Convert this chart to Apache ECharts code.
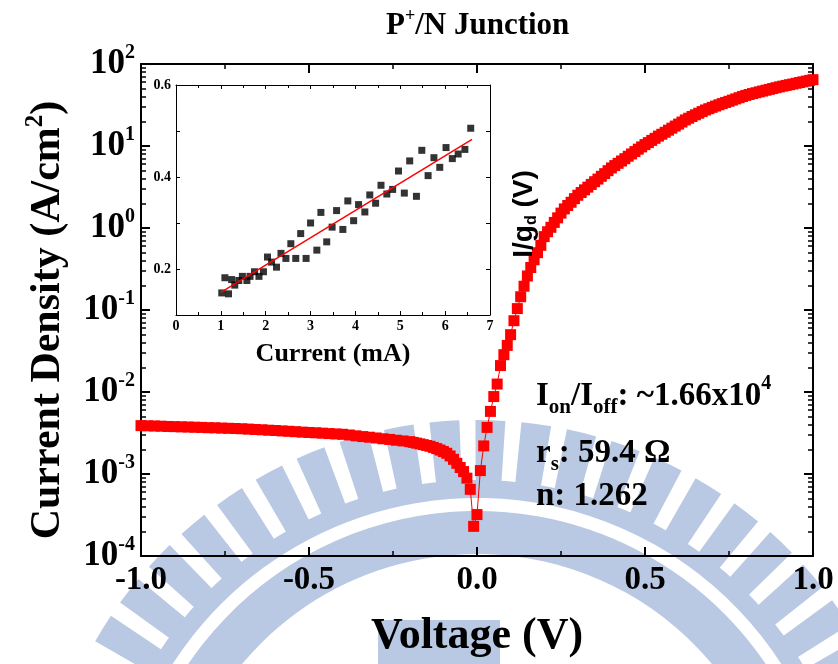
<!DOCTYPE html>
<html>
<head>
<meta charset="utf-8">
<script src="https://cdn.jsdelivr.net/npm/echarts@6/dist/echarts.min.js"></script>
<style>
  html, body { margin: 0; padding: 0; background: #fff; }
  #main { width: 838px; height: 664px; }
</style>
</head>
<body>
<div id="main"></div>
<script>
// J-V curve of the P+/N junction (V, A/cm2)
var voltage = [
  -1.00, -0.98, -0.96, -0.94, -0.92, -0.90, -0.88, -0.86, -0.84, -0.82,
  -0.80, -0.78, -0.76, -0.74, -0.72, -0.70, -0.68, -0.66, -0.64, -0.62,
  -0.60, -0.58, -0.56, -0.54, -0.52, -0.50, -0.48, -0.46, -0.44, -0.42,
  -0.40, -0.38, -0.36, -0.34, -0.32, -0.30, -0.28, -0.26, -0.24, -0.22,
  -0.20,
  -0.19, -0.18, -0.17, -0.16, -0.15, -0.14, -0.13, -0.12, -0.11, -0.10,
  -0.09, -0.08, -0.07, -0.06, -0.05, -0.04, -0.03, -0.02, -0.01, 0.00,
  0.01, 0.02, 0.03, 0.04, 0.05, 0.06, 0.07, 0.08, 0.09, 0.10,
  0.11, 0.12, 0.13, 0.14, 0.15, 0.16, 0.17, 0.18, 0.19, 0.20,
  0.21, 0.22, 0.23, 0.24, 0.25, 0.26, 0.27, 0.28, 0.29, 0.30,
  0.31, 0.32, 0.33, 0.34, 0.35, 0.36, 0.37, 0.38, 0.39, 0.40,
  0.41, 0.42, 0.43, 0.44, 0.45, 0.46, 0.47, 0.48, 0.49, 0.50,
  0.51, 0.52, 0.53, 0.54, 0.55, 0.56, 0.57, 0.58, 0.59, 0.60,
  0.61, 0.62, 0.63, 0.64, 0.65, 0.66, 0.67, 0.68, 0.69, 0.70,
  0.71, 0.72, 0.73, 0.74, 0.75, 0.76, 0.77, 0.78, 0.79, 0.80,
  0.81, 0.82, 0.83, 0.84, 0.85, 0.86, 0.87, 0.88, 0.89, 0.90,
  0.91, 0.92, 0.93, 0.94, 0.95, 0.96, 0.97, 0.98, 0.99, 1.00
];
var currentDensity = [
  3.89e-3, 3.87e-3, 3.85e-3, 3.83e-3, 3.80e-3, 3.78e-3, 3.76e-3, 3.74e-3, 3.72e-3, 3.70e-3,
  3.67e-3, 3.66e-3, 3.63e-3, 3.61e-3, 3.59e-3, 3.56e-3, 3.53e-3, 3.49e-3, 3.46e-3, 3.42e-3,
  3.39e-3, 3.35e-3, 3.32e-3, 3.28e-3, 3.24e-3, 3.21e-3, 3.18e-3, 3.15e-3, 3.11e-3, 3.08e-3,
  3.05e-3, 2.99e-3, 2.92e-3, 2.86e-3, 2.81e-3, 2.75e-3, 2.69e-3, 2.64e-3, 2.58e-3, 2.53e-3,
  2.48e-3,
  2.43e-3, 2.38e-3, 2.33e-3, 2.28e-3, 2.23e-3, 2.18e-3, 2.11e-3, 2.04e-3, 1.96e-3, 1.88e-3,
  1.79e-3, 1.66e-3, 1.51e-3, 1.35e-3, 1.20e-3, 1.07e-3, 8.9e-4, 6.5e-4, 2.3e-4, 3.2e-4,
  1.1e-3, 2.2e-3, 3.7e-3, 5.8e-3, 8.8e-3, 0.0125, 0.021, 0.0285, 0.037, 0.05,
  0.074, 0.104, 0.145, 0.195, 0.26, 0.33, 0.41, 0.50, 0.615, 0.785,
  0.90, 1.02, 1.17, 1.33, 1.52, 1.71, 1.88, 2.06, 2.28, 2.51,
  2.71, 2.92, 3.15, 3.40, 3.67, 3.95, 4.27, 4.6, 5.0, 5.4,
  5.77, 6.15, 6.56, 7.0, 7.5, 8.0, 8.55, 9.15, 9.75, 10.4,
  11.0, 11.7, 12.4, 13.2, 13.9, 14.7, 15.6, 16.5, 17.5, 18.5,
  19.6, 20.8, 21.8, 22.9, 24.0, 25.1, 26.3, 27.5, 28.5, 29.6,
  30.7, 31.8, 32.9, 34.0, 35.1, 36.3, 37.5, 38.8, 40.1, 41.4,
  42.5, 43.6, 44.6, 45.7, 46.8, 47.9, 49.0, 50.2, 51.4, 52.6,
  53.7, 54.8, 55.9, 57.0, 58.2, 59.4, 60.6, 61.8, 63.1, 64.4
];

// inset: I/gd vs current
var insetCurrent = [
  1.02, 1.09, 1.17, 1.24, 1.31, 1.40, 1.48, 1.58, 1.65, 1.75,
  1.85, 1.95, 2.04, 2.13, 2.24, 2.34, 2.45, 2.56, 2.67, 2.78,
  2.90, 3.00, 3.14, 3.23, 3.36, 3.48, 3.58, 3.72, 3.83, 3.96,
  4.07, 4.21, 4.32, 4.45, 4.57, 4.70, 4.83, 4.96, 5.09, 5.21,
  5.36, 5.48, 5.62, 5.75, 5.88, 6.02, 6.16, 6.29, 6.44, 6.57
];
var insetIgd = [
  0.148, 0.181, 0.146, 0.177, 0.165, 0.175, 0.184, 0.175, 0.184, 0.194,
  0.184, 0.194, 0.226, 0.215, 0.204, 0.234, 0.223, 0.255, 0.223, 0.277,
  0.223, 0.300, 0.241, 0.323, 0.259, 0.291, 0.327, 0.286, 0.348, 0.305,
  0.340, 0.324, 0.361, 0.343, 0.382, 0.363, 0.373, 0.413, 0.365, 0.435,
  0.358, 0.458, 0.403, 0.442, 0.421, 0.464, 0.440, 0.450, 0.460, 0.506
];
var fitCurrent = [1.0, 6.6];
var fitIgd = [0.149, 0.482];

// axis ticks
var decadeTicks = [1e-4, 1e-3, 1e-2, 1e-1, 1, 10, 100];
var minorLogTicks = [];
decadeTicks.slice(0, -1).forEach(function (d) {
  for (var k = 2; k <= 9; k++) minorLogTicks.push(d * k);
});

var serif = '"Liberation Serif", "Times New Roman", serif';
var sans = '"Liberation Sans", Arial, sans-serif';

function bold(size, extra) {
  var s = { fontFamily: serif, fontWeight: 'bold', fontSize: size, color: '#000' };
  for (var k in extra) s[k] = extra[k];
  return s;
}

var chart = echarts.init(document.getElementById('main'), null, { renderer: 'canvas' });

// watermark behind the plot (decoration only)
var wmColor = '#b9c8e3';
var wmCx = 477, wmCy = 860;
var watermark = [];
for (var a = -150.2; a <= -28; a += 6) {
  watermark.push({
    type: 'sector', z: -10, silent: true,
    shape: { cx: wmCx, cy: wmCy, r0: 376, r: 440, startAngle: a * Math.PI / 180, endAngle: (a + 3.9) * Math.PI / 180 },
    style: { fill: wmColor }
  });
}
watermark.push({
  type: 'sector', z: -10, silent: true,
  shape: { cx: wmCx, cy: wmCy, r0: 362, r: 380, startAngle: -170 * Math.PI / 180, endAngle: -10 * Math.PI / 180 },
  style: { fill: wmColor }
});
watermark.push({
  type: 'sector', z: -10, silent: true,
  shape: { cx: wmCx, cy: wmCy, r0: 306, r: 349, startAngle: -170 * Math.PI / 180, endAngle: -10 * Math.PI / 180 },
  style: { fill: wmColor }
});
watermark.push({
  type: 'rect', z: -10, silent: true,
  shape: { x: 378, y: 620, width: 122, height: 44 },
  style: { fill: wmColor }
});

var subRich = {
  m: bold(33, { lineHeight: 44 }),
  sub: bold(21, { lineHeight: 21, verticalAlign: 'bottom' }),
  sup: bold(20, { lineHeight: 20, verticalAlign: 'top' })
};

var annotations = [
  {
    type: 'text', z: 100, left: 536, top: 374,
    style: { text: '{m|I}{sub|on}{m|/I}{sub|off}{m|: ~1.66x10}{sup|4}', rich: subRich }
  },
  {
    type: 'text', z: 100, left: 536, top: 437,
    style: { text: '{m|r}{sub|s}{m|: 59.4 Ω}', rich: subRich }
  },
  {
    type: 'text', z: 100, left: 536, top: 480,
    style: { text: '{m|n: 1.262}', rich: subRich }
  },
  {
    type: 'text', z: 100, x: 524, y: 214, rotation: Math.PI / 2,
    style: {
      text: '{a|I/g}{d|d}{a| (V)}',
      align: 'center', verticalAlign: 'middle',
      rich: {
        a: { fontFamily: sans, fontWeight: 'bold', fontSize: 28, lineHeight: 32, color: '#000' },
        d: { fontFamily: sans, fontWeight: 'bold', fontSize: 16, lineHeight: 16, verticalAlign: 'bottom', color: '#000' }
      }
    }
  }
];

var blackLine = { onZero: false, lineStyle: { color: '#000', width: 2 } };
var thinLine = { onZero: false, lineStyle: { color: '#000', width: 1 } };

var option = {
  animation: false,
  backgroundColor: '#fff',
  title: {
    text: '{a|P}{s|+}{a|/N Junction}',
    left: 381, top: 2,
    textStyle: {
      rich: {
        a: bold(31, { lineHeight: 38 }),
        s: bold(18, { lineHeight: 18, verticalAlign: 'top' })
      }
    }
  },
  grid: [
    { left: 141, top: 64, width: 672, height: 492, outerBoundsMode: 'none' },
    { left: 176, top: 85, width: 314, height: 230, outerBoundsMode: 'none' }
  ],
  xAxis: [
    {
      gridIndex: 0, type: 'value', min: -1, max: 1, interval: 0.5, position: 'bottom',
      axisLine: blackLine,
      axisTick: { inside: true, length: 9, lineStyle: { color: '#000', width: 2 } },
      minorTick: { show: true, splitNumber: 2, length: 5, lineStyle: { color: '#000', width: 1.5 } },
      splitLine: { show: false },
      axisLabel: {
        margin: 8,
        formatter: function (v) { return v.toFixed(1); },
        fontFamily: serif, fontWeight: 'bold', fontSize: 33, color: '#000'
      },
      name: 'Voltage (V)', nameLocation: 'middle', nameGap: 59,
      nameTextStyle: bold(44)
    },
    {
      gridIndex: 0, type: 'value', min: -1, max: 1, interval: 0.5, position: 'top',
      axisLine: blackLine,
      axisTick: { inside: true, length: 9, lineStyle: { color: '#000', width: 2 } },
      minorTick: { show: true, splitNumber: 2, length: 5, lineStyle: { color: '#000', width: 1.5 } },
      splitLine: { show: false },
      axisLabel: { show: false }
    },
    {
      gridIndex: 1, type: 'value', min: 0, max: 7, interval: 1, position: 'bottom',
      axisLine: thinLine,
      axisTick: { inside: true, length: 4, lineStyle: { color: '#000', width: 1 } },
      minorTick: { show: true, splitNumber: 2, length: 3, lineStyle: { color: '#000', width: 1 } },
      splitLine: { show: false },
      axisLabel: { margin: 4, fontFamily: serif, fontWeight: 'bold', fontSize: 14, color: '#000' },
      name: 'Current (mA)', nameLocation: 'middle', nameGap: 26,
      nameTextStyle: bold(26)
    },
    {
      gridIndex: 1, type: 'value', min: 0, max: 7, interval: 1, position: 'top',
      axisLine: thinLine,
      axisTick: { inside: true, length: 4, lineStyle: { color: '#000', width: 1 } },
      minorTick: { show: true, splitNumber: 2, length: 3, lineStyle: { color: '#000', width: 1 } },
      splitLine: { show: false },
      axisLabel: { show: false }
    }
  ],
  yAxis: [
    {
      gridIndex: 0, type: 'log', logBase: 10, min: 1e-4, max: 100, position: 'left',
      axisLine: blackLine,
      axisTick: { inside: true, length: 9, customValues: decadeTicks, lineStyle: { color: '#000', width: 2 } },
      splitLine: { show: false },
      axisLabel: {
        margin: 6,
        customValues: decadeTicks,
        formatter: function (v) {
          return '{b|10}{s|' + Math.round(Math.log10(v)) + '}';
        },
        rich: {
          b: bold(35, { lineHeight: 42 }),
          s: bold(20, { lineHeight: 20, verticalAlign: 'top' })
        }
      },
      name: '{a|Current Density (A/cm}{s|2}{a|)}{p|}',
      nameLocation: 'middle', nameRotate: 90, nameGap: 68,
      nameTextStyle: {
        rich: {
          a: bold(42, { lineHeight: 50 }),
          s: bold(25, { lineHeight: 25, verticalAlign: 'top' }),
          p: { width: 20 }
        }
      }
    },
    {
      gridIndex: 0, type: 'log', logBase: 10, min: 1e-4, max: 100, position: 'left',
      axisLine: { show: false, onZero: false },
      axisTick: { inside: true, length: 5, customValues: minorLogTicks, lineStyle: { color: '#000', width: 1.5 } },
      splitLine: { show: false },
      axisLabel: { show: false }
    },
    {
      gridIndex: 0, type: 'log', logBase: 10, min: 1e-4, max: 100, position: 'right',
      axisLine: blackLine,
      axisTick: { inside: true, length: 9, customValues: decadeTicks, lineStyle: { color: '#000', width: 2 } },
      splitLine: { show: false },
      axisLabel: { show: false }
    },
    {
      gridIndex: 0, type: 'log', logBase: 10, min: 1e-4, max: 100, position: 'right',
      axisLine: { show: false, onZero: false },
      axisTick: { inside: true, length: 5, customValues: minorLogTicks, lineStyle: { color: '#000', width: 1.5 } },
      splitLine: { show: false },
      axisLabel: { show: false }
    },
    {
      gridIndex: 1, type: 'value', min: 0.1, max: 0.6, interval: 0.1, position: 'left',
      axisLine: thinLine,
      axisTick: { inside: true, length: 4, lineStyle: { color: '#000', width: 1 } },
      splitLine: { show: false },
      axisLabel: {
        margin: 5,
        formatter: function (v) { return Math.round(v * 10) % 2 === 0 ? v.toFixed(1) : ''; },
        fontFamily: serif, fontWeight: 'bold', fontSize: 14, color: '#000'
      }
    },
    {
      gridIndex: 1, type: 'value', min: 0.1, max: 0.6, interval: 0.1, position: 'right',
      axisLine: thinLine,
      axisTick: { inside: true, length: 4, lineStyle: { color: '#000', width: 1 } },
      splitLine: { show: false },
      axisLabel: { show: false }
    }
  ],
  series: [
    {
      name: 'J-V', type: 'line', xAxisIndex: 0, yAxisIndex: 0,
      data: voltage.map(function (v, i) { return [v, currentDensity[i]]; }),
      symbol: 'rect', symbolSize: 11, showSymbol: true, showAllSymbol: true,
      itemStyle: { color: '#ff0000' },
      lineStyle: { color: '#ff0000', width: 1 },
      z: 5
    },
    {
      name: 'I/gd', type: 'scatter', xAxisIndex: 2, yAxisIndex: 4,
      data: insetCurrent.map(function (c, i) { return [c, insetIgd[i]]; }),
      symbol: 'rect', symbolSize: 7,
      itemStyle: { color: '#000' }
    },
    {
      name: 'fit', type: 'line', xAxisIndex: 2, yAxisIndex: 4,
      data: fitCurrent.map(function (c, i) { return [c, fitIgd[i]]; }),
      symbol: 'none',
      lineStyle: { color: '#ff0000', width: 1.5 }
    }
  ],
  graphic: watermark.concat(annotations)
};

chart.setOption(option);
</script>
</body>
</html>
